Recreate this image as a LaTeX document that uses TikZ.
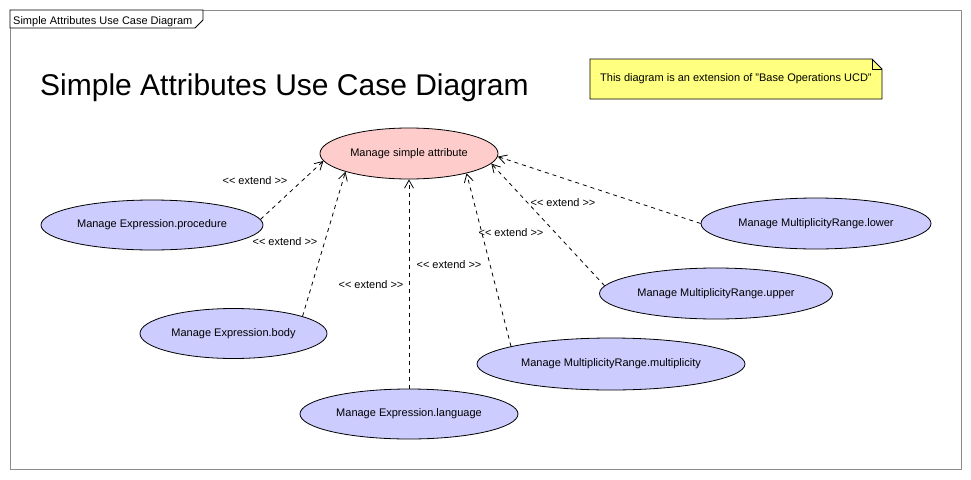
\documentclass[tikz,border=0pt]{standalone}
\usepackage{fontspec}
\setmainfont{Liberation Sans}
\usetikzlibrary{shapes.geometric,arrows.meta}
\definecolor{ucblue}{HTML}{CCCCFF}
\definecolor{ucpink}{HTML}{FFCCCC}
\definecolor{noteyellow}{HTML}{FFFF80}
\definecolor{framegray}{HTML}{8C8C8C}
\newcommand{\extlabel}{<\kern0pt< extend >\kern0pt>}
\begin{document}
\begin{tikzpicture}[x=1pt,y=-1pt,
  uc/.style={ellipse,draw=black,line width=0.8pt,fill=ucblue,inner sep=0pt,font=\fontsize{11}{13}\selectfont},
  ext/.style={draw=black,line width=0.8pt,dash pattern=on 4pt off 4pt,-{Straight Barb[length=8pt,width=9pt]}},
  lbl/.style={font=\fontsize{11}{13}\selectfont,inner sep=0pt}]
\path[use as bounding box,fill=white] (0,0) rectangle (971,479);
% frame
\draw[framegray,line width=0.8pt] (10,10) rectangle (961,469);
\draw[black,line width=0.8pt,fill=white] (10,10) -- (203,10) -- (203,20) -- (195,28) -- (10,28) -- cycle;
\node[lbl,anchor=base west] (tab) at (13,24) {Simple Attributes Use Case Diagram};
% title
\node[anchor=base west,inner sep=0pt,font=\fontsize{30}{34}\selectfont] (title) at (40,95) {Simple Attributes Use Case Diagram};
% note
\draw[black,line width=0.8pt,fill=noteyellow] (590,59) -- (872,59) -- (882,69) -- (882,99) -- (590,99) -- cycle;
\draw[black,line width=0.8pt] (872,59) -- (872,69) -- (882,69);
\node[lbl,anchor=base west] (note) at (600,81) {This diagram is an extension of "Base Operations UCD"};
% use cases
\node[uc,fill=ucpink,minimum width=178pt,minimum height=51pt] (main) at (409,153.5) {Manage simple attribute};
\node[uc,minimum width=222pt,minimum height=50pt] (proc) at (152,225) {Manage Expression.procedure};
\node[uc,minimum width=187pt,minimum height=50pt] (body) at (233.5,333.5) {Manage Expression.body};
\node[uc,minimum width=218pt,minimum height=50pt] (lang) at (409,414) {Manage Expression.language};
\node[uc,minimum width=268pt,minimum height=52pt] (mult) at (611,364) {Manage MultiplicityRange.multiplicity};
\node[uc,minimum width=233pt,minimum height=51pt] (upper) at (716,293.5) {Manage MultiplicityRange.upper};
\node[uc,minimum width=230pt,minimum height=51pt] (lower) at (816,223.5) {Manage MultiplicityRange.lower};
% extends
\draw[ext] (proc.3) -- (main.185.6);
\draw[ext] (body.14) -- (main.196);
\draw[ext] (lang.90) -- (main.270);
\draw[ext] (mult.170.7) -- (main.341.4);
\draw[ext] (upper.176.7) -- (main.353.7);
\draw[ext] (lower.180) -- (main.358.4);
% labels
\node[lbl] (l1) at (255,181) {\extlabel};
\node[lbl] (l2) at (285,242) {\extlabel};
\node[lbl] (l3) at (371,285) {\extlabel};
\node[lbl] (l4) at (449,265) {\extlabel};
\node[lbl] (l5) at (511,233) {\extlabel};
\node[lbl] (l6) at (563,203) {\extlabel};
\end{tikzpicture}
\end{document}
